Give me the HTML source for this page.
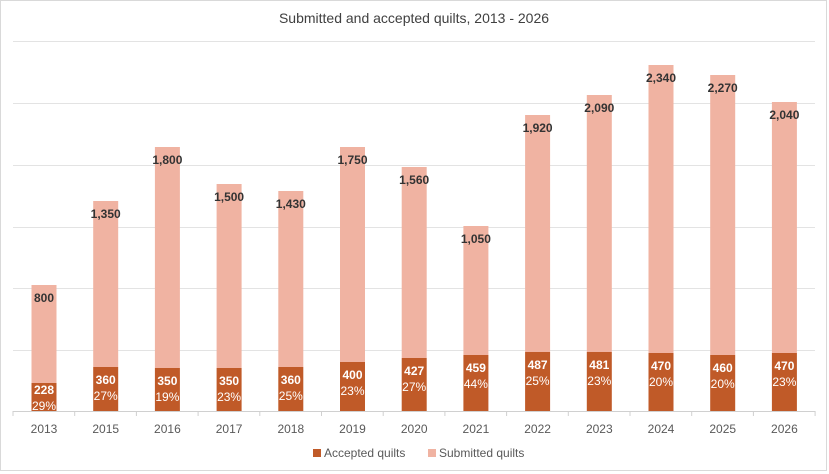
<!DOCTYPE html>
<html><head><meta charset="utf-8"><style>
body{margin:0;background:#fff}
svg{display:block;font-family:"Liberation Sans",sans-serif}
</style></head><body>
<svg width="829" height="474" viewBox="0 0 829 474" xmlns="http://www.w3.org/2000/svg">
<rect x="0.5" y="0.5" width="826" height="470" fill="#fff" stroke="#d9d9d9"/>
<text x="414" y="23" font-size="14" fill="#404040" text-anchor="middle">Submitted and accepted quilts, 2013 - 2026</text>
<g stroke="#e3e3e3" stroke-width="1">
<line x1="13" x2="815" y1="41.5" y2="41.5"/>
<line x1="13" x2="815" y1="103.5" y2="103.5"/>
<line x1="13" x2="815" y1="165.5" y2="165.5"/>
<line x1="13" x2="815" y1="227.5" y2="227.5"/>
<line x1="13" x2="815" y1="288.5" y2="288.5"/>
<line x1="13" x2="815" y1="350.5" y2="350.5"/>
<line x1="13" x2="815" y1="411.5" y2="411.5" stroke="#d0d0d0"/>
</g>
<g id="bars"></g>
<g font-size="12" fill="#595959" text-anchor="middle" id="xl"></g>
<rect x="313" y="449" width="8" height="8" fill="#c05a28"/>
<text x="324" y="457" font-size="12" fill="#595959">Accepted quilts</text>
<rect x="428" y="449" width="8" height="8" fill="#f0b3a2"/>
<text x="439" y="457" font-size="12" fill="#595959">Submitted quilts</text>
</svg>
<script>
var d=[["2013",285,383,"800","228","29%"],["2015",201,367,"1,350","360","27%"],["2016",147,368,"1,800","350","19%"],["2017",184,368,"1,500","350","23%"],["2018",191,367,"1,430","360","25%"],["2019",147,362,"1,750","400","23%"],["2020",167,358,"1,560","427","27%"],["2021",226,355,"1,050","459","44%"],["2022",115,352,"1,920","487","25%"],["2023",95,352,"2,090","481","23%"],["2024",65,353,"2,340","470","20%"],["2025",75,355,"2,270","460","20%"],["2026",102,353,"2,040","470","23%"]];
var ns="http://www.w3.org/2000/svg",g=document.getElementById("bars"),xl=document.getElementById("xl");
function el(t,a,txt,p){var e=document.createElementNS(ns,t);for(var k in a)e.setAttribute(k,a[k]);if(txt)e.textContent=txt;(p||g).appendChild(e);return e;}
for(var i=0;i<=13;i++){var x=13+61.7*i;el("line",{x1:x,x2:x,y1:411,y2:416,stroke:"#d0d0d0"});}
d.forEach(function(r,i){var c=44+61.7*i;
el("rect",{x:c-12.5,y:r[1],width:25,height:r[2]-r[1],fill:"#f0b3a2"});
el("rect",{x:c-12.5,y:r[2],width:25,height:411-r[2],fill:"#c05a28"});
el("text",{x:c,y:r[1]+17,"font-size":12,"font-weight":"bold",fill:"#333","text-anchor":"middle"},r[3]);
var y1=i==0?394:r[2]+17,y2=i==0?410:r[2]+33;
el("text",{x:c,y:y1,"font-size":12,"font-weight":"bold",fill:"#fff","text-anchor":"middle"},r[4]);
el("text",{x:c,y:y2,"font-size":12,fill:"#fff","text-anchor":"middle"},r[5]);
el("text",{x:c,y:433},r[0],xl);});
</script>
</body></html>
